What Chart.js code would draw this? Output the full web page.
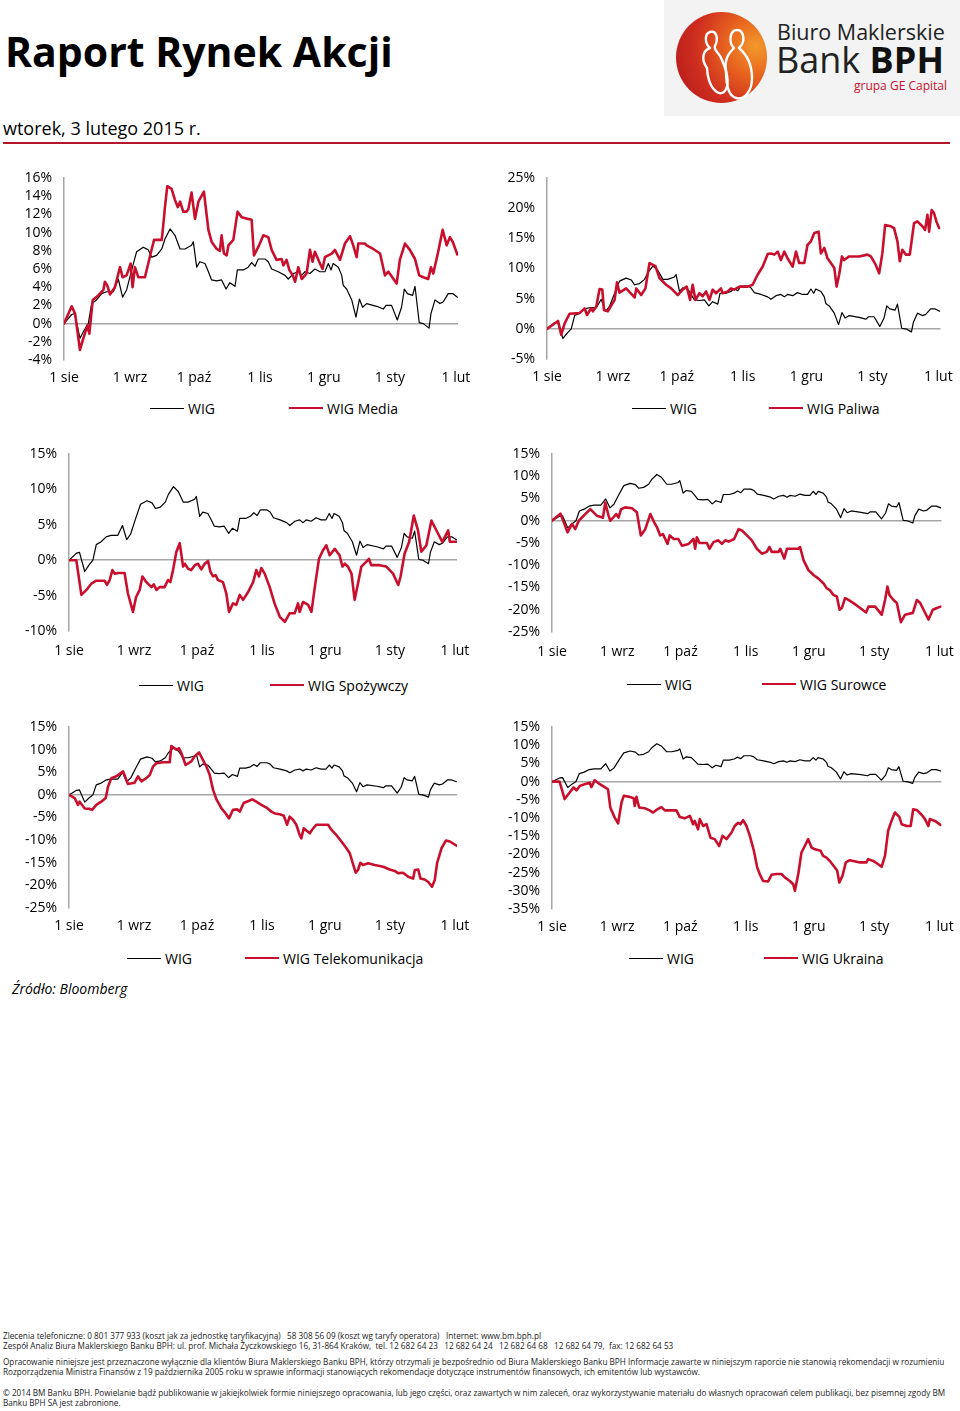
<!DOCTYPE html>
<html lang="pl">
<head>
  <meta charset="UTF-8">
  <title>Raport Rynek Akcji</title>
  <script src="https://cdn.jsdelivr.net/npm/chart.js"></script>
  <style>
    body { margin: 0; width: 960px; height: 1411px; position: relative; overflow: hidden; background: #fff; font-family: "Open Sans", sans-serif; color: #000; }
    .abs { position: absolute; white-space: nowrap; }
    h1 { position: absolute; left: 5px; top: 31px; margin: 0; font-size: 41px; line-height: 1; font-weight: 700; }
    .date { left: 3px; top: 119px; font-size: 18px; line-height: 1; }
    .rule { position: absolute; left: 3px; top: 142px; width: 947px; height: 2px; background: #b3162b; }
    .logo { position: absolute; left: 664px; top: 0; width: 296px; height: 116px; background: #f3f3f3; }
    .circle { position: absolute; left: 12px; top: 12px; width: 91px; height: 91px; border-radius: 50%;
      background: radial-gradient(circle at 88% 38%, #f29a2c 0%, #e8641f 30%, #cf2f1f 62%, #b0161c 100%); }
    .lg { position: absolute; height: 18px; display: flex; align-items: center; font-size: 14px; white-space: nowrap; }
    .lg i { display: inline-block; width: 34px; height: 0; margin-right: 4px; }
    .lg i.k { border-top: 1.3px solid #000; }
    .lg i.r { border-top: 2.6px solid #c8102e; }
    canvas { position: absolute; }
    .foot { position: absolute; left: 3px; font-size: 8.2px; line-height: 1; white-space: nowrap; color: #222; }
  </style>
</head>
<body>
  <h1>Raport Rynek Akcji</h1>
  <div class="abs date">wtorek, 3 lutego 2015 r.</div>
  <div class="rule"></div>

  <div class="logo">
    <div class="circle"></div>
    <svg width="296" height="116" style="position:absolute;left:0;top:0">
      <path d="M43 68 C36 58 40 50 46 48 C41 44 40 34 46 32 C52 30 55 38 51 46 C49 50 55 52 58 60 C64 74 66 86 60 92 C54 96 44 88 43 68 Z"
            fill="none" stroke="#fff" stroke-width="2.4" stroke-linejoin="round"/>
      <path d="M62 70 C60 58 66 52 70 48 C64 42 66 30 73 30 C80 30 82 42 75 48 C82 54 88 64 88 78 C88 92 80 100 72 98 C64 96 62 84 62 70 Z"
            fill="none" stroke="#fff" stroke-width="2.4" stroke-linejoin="round"/>
    </svg>
    <div class="abs" style="left:113px;top:21px;font-size:21.5px;line-height:1;color:#222">Biuro Maklerskie</div>
    <div class="abs" style="left:112px;top:42px;font-size:36px;line-height:1;color:#222">Bank <b style="color:#111">BPH</b></div>
    <div class="abs" style="right:13px;top:80px;font-size:12px;line-height:1;color:#c8102e">grupa GE Capital</div>
  </div>

  <canvas id="c1"></canvas>
  <canvas id="c2"></canvas>
  <canvas id="c3"></canvas>
  <canvas id="c4"></canvas>
  <canvas id="c5"></canvas>
  <canvas id="c6"></canvas>

  <div class="lg" style="left:150px;top:399px"><i class="k"></i>WIG</div>
  <div class="lg" style="left:289px;top:399px"><i class="r"></i>WIG Media</div>
  <div class="lg" style="left:632px;top:399px"><i class="k"></i>WIG</div>
  <div class="lg" style="left:769px;top:399px"><i class="r"></i>WIG Paliwa</div>
  <div class="lg" style="left:139px;top:676px"><i class="k"></i>WIG</div>
  <div class="lg" style="left:270px;top:676px"><i class="r"></i>WIG Spożywczy</div>
  <div class="lg" style="left:627px;top:675px"><i class="k"></i>WIG</div>
  <div class="lg" style="left:762px;top:675px"><i class="r"></i>WIG Surowce</div>
  <div class="lg" style="left:127px;top:949px"><i class="k"></i>WIG</div>
  <div class="lg" style="left:245px;top:949px"><i class="r"></i>WIG Telekomunikacja</div>
  <div class="lg" style="left:629px;top:949px"><i class="k"></i>WIG</div>
  <div class="lg" style="left:764px;top:949px"><i class="r"></i>WIG Ukraina</div>

  <div class="abs" style="left:12px;top:982px;font-size:14px;line-height:1;font-style:italic">Źródło: Bloomberg</div>

  <div class="foot" style="top:1332px">Zlecenia telefoniczne: 0 801 377 933 (koszt jak za jednostkę taryfikacyjną)&nbsp;&nbsp; 58 308 56 09 (koszt wg taryfy operatora)&nbsp;&nbsp; Internet: www.bm.bph.pl</div>
  <div class="foot" style="top:1342px">Zespół Analiz Biura Maklerskiego Banku BPH: ul. prof. Michała Życzkowskiego 16, 31-864 Kraków,&nbsp; tel. 12 682 64 23&nbsp;&nbsp; 12 682 64 24&nbsp;&nbsp; 12 682 64 68&nbsp;&nbsp; 12 682 64 79,&nbsp; fax: 12 682 64 53</div>
  <div class="foot" style="top:1358px">Opracowanie niniejsze jest przeznaczone wyłącznie dla klientów Biura Maklerskiego Banku BPH, którzy otrzymali je bezpośrednio od Biura Maklerskiego Banku BPH Informacje zawarte w niniejszym raporcie nie stanowią rekomendacji w rozumieniu</div>
  <div class="foot" style="top:1368px">Rozporządzenia Ministra Finansów z 19 października 2005 roku w sprawie informacji stanowiących rekomendacje dotyczące instrumentów finansowych, ich emitentów lub wystawców.</div>
  <div class="foot" style="top:1389px">© 2014 BM Banku BPH. Powielanie bądź publikowanie w jakiejkolwiek formie niniejszego opracowania, lub jego części, oraz zawartych w nim zaleceń, oraz wykorzystywanie materiału do własnych opracowań celem publikacji, bez pisemnej zgody BM</div>
  <div class="foot" style="top:1399px">Banku BPH SA jest zabronione.</div>

  <script>
    // days counted from 1 Aug 2014
    const monthDays = [0, 31, 61, 92, 122, 153, 184];
    const monthLabels = ["1 sie", "1 wrz", "1 paź", "1 lis", "1 gru", "1 sty", "1 lut"];

    // [day, % change since 1 Aug]
    const wig = [[0,0],[3.6,1.0],[5,1.1],[7.5,-1.6],[9.5,-0.7],[11.4,0],[13,2.2],[15.3,2.6],[17.7,3.3],[20,3.5],[23.2,3.5],[25.5,4.9],[27.5,2.9],[29.4,3.7],[31.8,5.9],[34.1,7.9],[37.2,8.4],[39.6,8.1],[41.2,7.3],[43.5,7.5],[45.9,8.2],[47.4,9.3],[49.8,10.4],[52.1,9.7],[54.5,8.2],[56.8,8.2],[59.9,8.6],[60.7,9.0],[62.3,6.2],[63.8,6.8],[66.2,6.6],[67.8,5.7],[69.3,4.8],[71.7,4.7],[74,4.8],[76.1,3.8],[77.9,4.5],[80.3,4.1],[81.4,5.9],[84.2,5.9],[86.5,6.2],[88.1,6.7],[89.7,6.3],[91.2,7.1],[94.4,7.1],[95.9,6.8],[97.5,6.0],[100.6,5.7],[103.8,5.3],[105.3,4.9],[107.7,5.5],[110,5.7],[111.6,5.3],[113.1,5.7],[115.5,5.5],[117.8,6.0],[120.2,5.7],[122.5,5.7],[124.1,6.6],[125.4,5.9],[126.4,6.6],[128.8,6.2],[130.4,5.3],[131.1,4.2],[132.7,3.8],[135.1,2.6],[137.1,0.7],[138.7,2.7],[140.2,1.8],[142.1,2.2],[146.8,1.9],[149.9,1.6],[151.2,2.0],[153.8,2.0],[156.5,0.4],[158.5,1.8],[159.8,3.8],[161.2,3.3],[163.7,3.1],[164.8,4.1],[166.8,0.1],[168.7,0],[171.4,-0.5],[172.3,1.1],[174.2,2.6],[176.5,2.2],[178.1,2.4],[180.4,3.3],[182.5,3.3],[184.7,2.9]];

    const wigMedia = [[0,0],[3.6,1.9],[5.2,1.1],[7.5,-2.9],[9.1,-1.6],[11,-0.2],[11.9,-1.1],[13.5,2.6],[16.1,3.1],[18.5,3.7],[19.2,4.6],[20.3,4.2],[21.6,3.2],[23.9,4.0],[26.3,6.2],[27.5,5.1],[29.4,5.3],[31.3,6.6],[32.2,4.0],[33.3,6.2],[34.9,5.1],[38,5.1],[41.2,8.2],[42.3,9.2],[45.9,9.2],[46.6,10.8],[47.4,12.8],[48.5,15.1],[50.5,14.8],[52.1,13.6],[53.4,12.8],[54.5,13.4],[56,12.3],[57.6,12.3],[58.4,12.6],[59.9,14.4],[61.5,11.5],[63.1,13.4],[65.7,14.5],[67.8,10.3],[69.3,9.0],[71.7,8.2],[73.2,8.0],[74,9.7],[75.1,7.7],[76.4,7.5],[77.2,8.6],[79.5,9.2],[81.5,12.3],[83.4,11.7],[86.5,11.5],[88.1,11.4],[89.2,7.5],[91.2,8.4],[93.6,9.7],[95.9,9.5],[97.5,8.1],[99.8,7.0],[102.2,7.1],[103,6.4],[104.5,7.0],[105.8,5.9],[107.4,5.3],[108.5,4.6],[110,6.2],[111.6,4.9],[113.9,5.5],[115.5,8.1],[116.7,6.8],[117.8,7.9],[120.2,6.6],[121.4,6.0],[122.5,7.3],[125.7,7.7],[127.2,8.1],[129.6,7.0],[131.9,8.8],[134.3,9.6],[135.8,8.6],[137.4,7.3],[138.2,8.8],[141.3,8.8],[142.1,8.6],[145.2,8.2],[148.4,7.7],[150.7,5.3],[152.3,5.7],[156.2,4.4],[157.7,7.0],[160.1,8.8],[162.4,8.1],[164.8,7.1],[166.8,5.3],[168.7,5.1],[171,4.9],[172.3,6.2],[173.4,5.5],[175.7,7.9],[177.8,10.3],[179.7,8.6],[181.2,9.5],[182.5,9.0],[184.7,7.6]];

    const wigPaliwa = [[0,0],[5.2,1.3],[6.7,-1.0],[8.3,0.9],[10.6,2.5],[15.3,2.6],[17.7,3.4],[18.8,2.3],[20.8,3.4],[21.6,2.9],[23.2,3.7],[24.7,6.6],[26,6.5],[26.8,3.1],[28.6,2.9],[31.8,4.8],[32.9,7.7],[34.1,6.0],[37.2,6.7],[41.2,5.2],[42,6.7],[44.3,5.6],[46.3,6.7],[48.2,10.9],[51,10.4],[52.9,8.4],[56,7.3],[58.4,6.7],[61.5,5.6],[63.8,6.5],[65.7,7.0],[67.3,4.8],[68.5,7.3],[69.8,4.8],[71.7,5.9],[73.2,5.4],[74.8,6.2],[76.4,4.8],[77.9,6.5],[79.5,5.9],[81.8,6.7],[82.6,5.9],[85,6.2],[86.5,6.7],[88.1,6.5],[90.5,7.0],[94.4,7.0],[96.7,7.3],[99.1,9.0],[101.4,10.3],[103.8,12.4],[105.3,12.5],[106.9,12.3],[108.5,12.8],[110,11.4],[111.6,12.8],[113.1,11.7],[115.5,10.3],[117.1,12.8],[118.6,10.9],[121,10.9],[122.5,13.9],[124.1,14.5],[125.7,15.9],[127.7,16.1],[128.8,12.5],[130.4,13.4],[131.9,11.7],[133.5,10.9],[135.1,10.1],[136.2,7.0],[137.4,9.0],[138.7,12.0],[139.7,11.4],[142.1,12.0],[146.8,12.0],[150.7,12.3],[152.3,12.0],[154.6,10.6],[156.2,9.2],[157.7,12.5],[159,17.2],[161.7,17.0],[163.2,16.7],[164.8,14.5],[165.9,11.2],[167.1,13.1],[168.7,12.3],[170.6,12.3],[172.6,17.5],[174.2,17.8],[176.5,17.0],[177.8,16.4],[178.9,18.9],[179.7,16.1],[180.9,19.7],[182,19.2],[183.1,17.8],[184.4,16.7]];

    const wigSpozywczy = [[0,0],[3.5,0],[5.9,-4.9],[8.3,-4.2],[10.7,-3.3],[13,-2.9],[17,-2.9],[18.1,-3.5],[19.4,-2.8],[20.7,-1.4],[21.8,-1.9],[23.4,-1.8],[26.5,-1.8],[28.1,-4.7],[30.5,-7.3],[32,-5.2],[33.7,-4.2],[35,-2.3],[36.9,-3.1],[39.3,-3.8],[40.4,-3.4],[41.7,-4.2],[43.2,-3.8],[45.6,-3.8],[47.2,-2.8],[48.3,-3.1],[49.6,-1.4],[51.2,1.2],[52.8,2.4],[54.4,-0.9],[55.2,-0.5],[56.8,-1.2],[58.3,-1.4],[60,-0.7],[61.5,-0.5],[63.1,-1.3],[64.7,-0.5],[66.3,-0.1],[67.4,-1.6],[68.7,-2.3],[69.9,-2.1],[71,-2.8],[73.4,-3.1],[75,-4.7],[76.3,-7.3],[78.2,-6.1],[79.8,-6.3],[81.4,-4.9],[83,-5.6],[85.4,-4.5],[87.8,-3.1],[89.3,-1.4],[90.6,-2.3],[91.7,-1.1],[93.3,-1.9],[95.7,-3.8],[98,-6.1],[100.5,-8.0],[102.9,-8.7],[105.2,-7.5],[107.6,-7.5],[109.2,-6.1],[110,-7.3],[111.6,-5.9],[114,-6.3],[115.6,-7.3],[117.2,-3.8],[119.2,0.2],[121.1,1.4],[122.7,2.1],[124.3,0.7],[126.7,1.6],[129,0.7],[130.4,-0.9],[131.5,-0.5],[133,-0.9],[134.7,-1.9],[136.2,-5.6],[137.8,-3.3],[139.4,-0.9],[141.8,-0.2],[143,0.2],[144.1,-0.7],[148,-0.7],[151.3,-0.9],[154.5,-1.9],[157,-3.5],[158.1,-2.3],[160,0.9],[162.2,2.6],[164.4,6.3],[166.4,4.2],[168,1.2],[170.4,2.1],[172.8,5.6],[175.2,4.2],[178,2.6],[180.8,4.2],[181.6,2.6],[185,2.6]];

    const wigSurowce = [[0,0],[4,1.6],[7.4,-2.6],[9.5,-0.7],[11,-1.9],[12.7,0],[15.8,1.5],[18.2,2.6],[21.4,1.1],[24.2,0.7],[25.3,4.1],[26.9,1.1],[27.7,0],[30.5,1.5],[31.6,0.7],[32.8,2.6],[34.8,3.0],[38,2.8],[40.3,1.9],[42.2,-3.3],[44.3,-1.9],[46.7,1.5],[48.6,-0.4],[49.9,-1.5],[51.4,-3.3],[52.7,-3.0],[54.9,-5.2],[55.9,-3.3],[57.8,-4.1],[60,-4.1],[61.7,-5.6],[64.9,-5.2],[67.2,-4.1],[68,-6.3],[68.8,-3.7],[70.1,-5.0],[73.6,-5.0],[74.8,-6.3],[76.7,-4.8],[79,-4.4],[80.7,-5.2],[82.3,-4.4],[83.9,-4.7],[86.5,-4.1],[88.6,-1.9],[90.2,-2.2],[92.6,-3.3],[94.9,-4.4],[97.3,-6.3],[99.7,-7.4],[102,-7.0],[103.3,-5.9],[104.4,-7.0],[107.6,-7.0],[108.4,-6.3],[110.3,-8.5],[111.6,-6.3],[117,-6.3],[117.8,-5.9],[119.5,-8.9],[121.8,-11.1],[124.2,-12.2],[126.6,-13.0],[129,-14.1],[130.5,-15.2],[132,-15.6],[133.7,-16.7],[135.3,-17.0],[136.6,-20.0],[137.7,-19.6],[139.2,-17.4],[140.8,-17.8],[143.2,-18.5],[146.4,-19.6],[149.2,-20.6],[150.3,-19.3],[153.5,-19.3],[156.6,-21.1],[158.2,-17.8],[159.3,-14.8],[160.3,-16.7],[162.2,-17.8],[163.8,-18.5],[165.7,-22.8],[167.7,-21.1],[171.4,-20.7],[173.3,-17.8],[174.9,-18.5],[176.9,-20.4],[178.8,-22.2],[180.9,-20.0],[182.8,-19.6],[184.6,-19.3]];

    const wigTelekom = [[0,0],[2.7,-0.7],[4.3,-2.2],[5.1,-1.5],[7.5,-3.0],[9.9,-3.1],[11.1,-3.3],[13,-2.2],[15.4,-1.5],[17.5,-0.7],[18.6,1.8],[20.2,3.7],[22.6,4.1],[25.8,5.2],[28.1,2.4],[31.3,2.7],[32.9,4.1],[34.5,3.0],[36.9,3.7],[38.5,4.4],[40.1,6.3],[41.7,7.0],[44.8,7.2],[48,7.2],[48.8,10.8],[51.2,10.0],[52.5,10.3],[53.6,9.2],[55.6,6.6],[58.3,7.4],[59.9,8.5],[62,9.4],[63.9,7.7],[65.5,6.3],[67.1,4.4],[68.7,1.1],[70.3,-1.0],[72.7,-3.0],[74.7,-4.1],[76.3,-5.2],[78.2,-3.3],[80.1,-3.2],[81.4,-3.7],[83.3,-1.8],[85.9,-1.3],[87.4,-1.0],[89.3,-1.5],[91.7,-2.2],[94.1,-2.8],[96.5,-3.7],[98.1,-4.1],[100.5,-4.3],[102.4,-4.6],[104,-6.6],[105.2,-4.8],[106.8,-5.5],[108.4,-6.6],[110,-8.9],[110.8,-9.6],[111.9,-7.4],[113.2,-7.9],[114.8,-8.5],[116.4,-7.4],[118,-6.6],[121.9,-6.6],[123.5,-6.6],[125.1,-7.7],[127.5,-8.9],[129.9,-10.3],[132.3,-11.8],[133.9,-12.9],[135.1,-14.8],[136.7,-17.2],[137.8,-16.6],[138.9,-15.0],[140.2,-15.5],[142.6,-15.1],[145.8,-15.5],[149.8,-15.9],[152.9,-16.5],[155.3,-16.8],[156.9,-17.3],[159.3,-17.2],[161.7,-18.1],[164.1,-18.5],[164.9,-16.6],[166.5,-16.5],[167.6,-18.5],[169.6,-18.7],[171.2,-19.2],[173.1,-20.3],[174.4,-18.8],[175.5,-15.1],[177.6,-11.8],[179.7,-10.1],[181.6,-10.3],[185,-11.3]];

    const wigUkraina = [[0,0],[3.6,0],[6,-4.8],[8.4,-3.0],[10.3,-1.6],[11.6,-2.4],[13.2,-1.2],[15.5,-0.7],[17.9,-0.3],[18.7,-1.5],[20.3,0.4],[22.7,-0.7],[25,-1.5],[26.6,-2.1],[27.7,-7.1],[29.8,-9.9],[31.4,-11.5],[33,-5.8],[34.1,-3.9],[36.9,-4.2],[38.8,-4.6],[39.3,-6.7],[40.1,-4.2],[41.4,-7.1],[44,-7.3],[46.4,-7.9],[48,-8.5],[49.6,-7.8],[52,-7.0],[53.6,-7.9],[56.7,-7.9],[59.1,-7.9],[60.7,-9.7],[63,-10.1],[65.5,-9.4],[67,-11.7],[67.8,-10.8],[69.4,-13.1],[70.2,-10.3],[71.8,-12.2],[73.4,-11.7],[75.3,-15.4],[77.3,-15.8],[79.4,-17.7],[81,-14.9],[82.9,-15.8],[85.3,-14.0],[86.8,-12.2],[88.4,-11.3],[89.5,-11.7],[90.8,-10.6],[92.4,-12.2],[94,-14.9],[95.9,-19.0],[97.5,-23.6],[98.7,-25.4],[100.3,-27.3],[102.7,-27.4],[104.3,-25.6],[106.7,-25.4],[109,-25.4],[110.6,-26.3],[113,-27.3],[114.6,-28.2],[115.4,-30.0],[117,-25.4],[118.5,-19.5],[120.1,-17.7],[121.7,-15.8],[123.3,-18.1],[124.9,-18.6],[127.6,-19.0],[128.8,-20.4],[130.4,-20.9],[132,-21.8],[134.4,-23.6],[135.5,-24.5],[136.5,-27.7],[138,-25.9],[139.6,-22.2],[141.5,-21.6],[143.1,-21.8],[146.3,-22.2],[149.4,-22.2],[150.2,-21.3],[152.6,-21.8],[155,-22.7],[156.6,-23.4],[158.2,-20.4],[159.7,-13.5],[161.3,-10.8],[162.9,-8.5],[165,-9.7],[166.1,-11.7],[168.5,-12.2],[170.4,-12.2],[171.6,-7.6],[173.5,-7.9],[175.6,-9.1],[177.2,-10.3],[178.8,-12.2],[179.5,-10.3],[181.9,-10.8],[184.6,-11.9]];

    const RED = "#c8102e";
    const GRAY = "#a6a6a6";

    Chart.defaults.font.family = '"Open Sans", sans-serif';
    Chart.defaults.font.size = 14;
    Chart.defaults.color = "#000";

    const toXY = arr => arr.map(([x, y]) => ({ x, y }));

    // plot rect in page coords: [left, top, right, bottom]
    const panels = [
      { id: "c1", label: "WIG Media",           data: wigMedia,     min: -4,  max: 16, step: 2, plot: [64, 178, 458, 360],    pad: 10 },
      { id: "c2", label: "WIG Paliwa",          data: wigPaliwa,    min: -5,  max: 25, step: 5, plot: [547, 178, 940.4, 359], pad: 10 },
      { id: "c3", label: "WIG Spożywczy",       data: wigSpozywczy, min: -10, max: 15, step: 5, plot: [69, 454, 457, 631],    pad: 12 },
      { id: "c4", label: "WIG Surowce",         data: wigSurowce,   min: -25, max: 15, step: 5, plot: [552, 454, 941.5, 632], pad: 12 },
      { id: "c5", label: "WIG Telekomunikacja", data: wigTelekom,   min: -25, max: 15, step: 5, plot: [69, 727, 457, 908],    pad: 10 },
      { id: "c6", label: "WIG Ukraina",         data: wigUkraina,   min: -35, max: 15, step: 5, plot: [552, 727, 941.4, 909], pad: 10 }
    ];

    panels.forEach(p => {
      const [l, t, r, b] = p.plot;
      const cx = l < 480 ? 0 : 480;
      const cy = t - 14;
      const W = 480, H = Math.round(b - cy + 36);
      const cv = document.getElementById(p.id);
      cv.width = W; cv.height = H;
      cv.style.left = cx + "px";
      cv.style.top = cy + "px";

      new Chart(cv, {
        type: "line",
        data: {
          datasets: [
            { label: p.label, data: toXY(p.data), borderColor: RED, borderWidth: 2.6, order: 0 },
            { label: "WIG", data: toXY(wig), borderColor: "#000", borderWidth: 1.2, order: 1 }
          ]
        },
        options: {
          responsive: false,
          animation: false,
          layout: { padding: { top: t - cy, left: 0, bottom: 0, right: cx + W - r } },
          plugins: { legend: { display: false }, tooltip: { enabled: false } },
          elements: {
            point: { radius: 0 },
            line: { tension: 0, borderJoinStyle: "round", borderCapStyle: "round" }
          },
          scales: {
            x: {
              type: "linear",
              min: 0,
              max: 185,
              afterFit: s => { s.height = H - (b - cy); },
              afterBuildTicks: s => { s.ticks = monthDays.map(v => ({ value: v })); },
              grid: { display: false, drawTicks: true, tickLength: p.pad },
              border: { display: false },
              ticks: { autoSkip: false, maxRotation: 0, minRotation: 0, padding: 0,
                       callback: (v, i) => monthLabels[i] }
            },
            y: {
              min: p.min,
              max: p.max,
              afterFit: s => { s.width = l - cx; },
              grid: { drawTicks: true, tickLength: 12, tickColor: "rgba(0,0,0,0)", lineWidth: 1.5,
                      color: c => (c.tick && c.tick.value === 0) ? GRAY : "rgba(0,0,0,0)" },
              border: { color: GRAY, width: 1.5 },
              ticks: { autoSkip: false, stepSize: p.step, padding: 0, callback: v => v + "%" }
            }
          }
        }
      });
    });
  </script>
</body>
</html>
